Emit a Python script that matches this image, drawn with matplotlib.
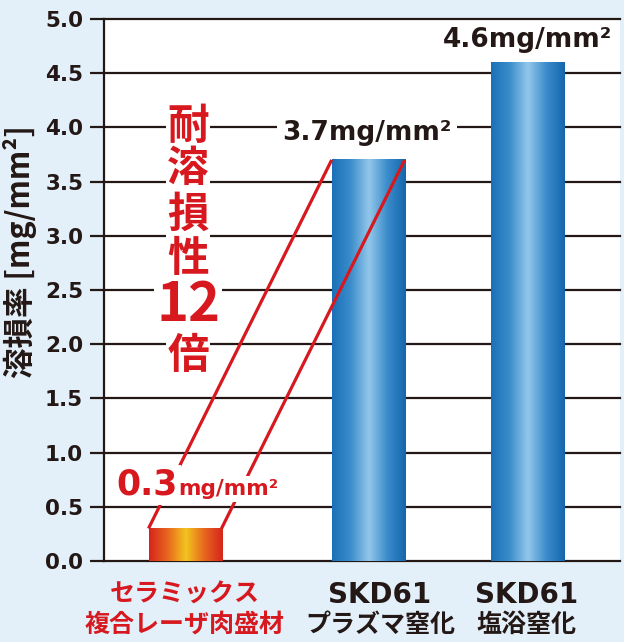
import numpy as np
import matplotlib
matplotlib.use("Agg")
import matplotlib.pyplot as plt
from matplotlib.colors import LinearSegmentedColormap

# ---- data ----
categories_line1 = ["セラミックス", "SKD61", "SKD61"]
categories_line2 = ["複合レーザ肉盛材", "プラズマ窒化", "塩浴窒化"]
values = [0.3, 3.7, 4.6]
yticks = [0.0, 0.5, 1.0, 1.5, 2.0, 2.5, 3.0, 3.5, 4.0, 4.5, 5.0]
ylabel = "溶損率 [mg/mm²]"
ratio_chars = ["耐", "溶", "損", "性", "12", "倍"]

# ---- layout ----
W, H = 624, 642
DPI = 100
BG = "#e3f0f9"
INK = "#231815"
RED = "#d7191f"
JP = ["Noto Sans CJK JP", "DejaVu Sans"]
LAT = ["DejaVu Sans"]

positions = [0.157, 0.512, 0.821]
bar_w = 0.1415
label_x = [0.157, 0.535, 0.818]

fig = plt.figure(figsize=(W / DPI, H / DPI), dpi=DPI, facecolor=BG)
ax = fig.add_axes([104 / W, 81 / H, 516 / W, 542 / H])
ax.set_facecolor("white")
ax.set_xlim(0, 1)
ax.set_ylim(0, 5)

for s in ["top", "right", "bottom"]:
    ax.spines[s].set_visible(False)
ax.spines["left"].set_color(INK)
ax.spines["left"].set_linewidth(1.6)
ax.spines["left"].set_zorder(6)

ax.set_yticks(yticks)
ax.set_yticklabels([f"{t:.1f}" for t in yticks], fontfamily=LAT,
                   fontweight="bold", fontsize=15.5, color=INK)
ax.tick_params(axis="y", length=10, width=1.6, color=INK, pad=5)
ax.set_xticks([])
for t in yticks:
    ax.axhline(t, color=INK, lw=1.6, zorder=1, clip_on=False)

# gradient bars
cm_blue = LinearSegmentedColormap.from_list(
    "b", ["#1a70b8", "#3a8ccb", "#93c7ea", "#3a8ccb", "#1566ad"])
cm_cer = LinearSegmentedColormap.from_list(
    "c", ["#d5251c", "#e8661f", "#f2c51f", "#e8661f", "#d5251c"])
grad = np.linspace(0, 1, 256).reshape(1, -1)
for i, (x, v) in enumerate(zip(positions, values)):
    cmap = cm_cer if i == 0 else cm_blue
    ax.imshow(grad, cmap=cmap, aspect="auto",
              extent=(x - bar_w / 2, x + bar_w / 2, 0, v), zorder=3,
              interpolation="bicubic")
ax.set_xlim(0, 1)
ax.set_ylim(0, 5)

# red connector lines
for side in (-1, 1):
    ax.plot([positions[0] + side * bar_w / 2, positions[1] + side * bar_w / 2],
            [values[0], values[1]], color=RED, lw=2.3, zorder=4,
            solid_capstyle="butt")

white_box = dict(facecolor="white", edgecolor="none", pad=2)

# value labels
ax.text(0.143, 0.61, f"{values[0]:.1f}", color=RED, fontfamily=LAT,
        fontweight="bold", fontsize=25, ha="right", va="baseline",
        zorder=5, bbox=white_box)
ax.text(0.143, 0.61, "mg/mm²", color=RED, fontfamily=LAT,
        fontweight="bold", fontsize=15.5, ha="left", va="baseline",
        zorder=5, bbox=white_box)
ax.text(0.51, 3.95, f"{values[1]:.1f}mg/mm²", color=INK, fontfamily=LAT,
        fontweight="bold", fontsize=19, ha="center", va="center",
        zorder=5, bbox=dict(facecolor="white", edgecolor="none", pad=4))
ax.text(0.82, 4.81, f"{values[2]:.1f}mg/mm²", color=INK, fontfamily=LAT,
        fontweight="bold", fontsize=19, ha="center", va="center", zorder=5)

# vertical annotation
ys = [4.0, 3.62, 3.19, 2.79, 2.36, 1.89]
for ch, y in zip(ratio_chars, ys):
    size = 39 if ch == "12" else 30
    ax.text(0.163, y, ch, color=RED, fontfamily=JP, fontweight="bold",
            fontsize=size, ha="center", va="center", zorder=5,
            bbox=dict(facecolor="white", edgecolor="none", pad=1))

# category labels
for i, (x, l1, l2) in enumerate(zip(label_x, categories_line1, categories_line2)):
    col = RED if i == 0 else INK
    if i == 0:
        ax.text(x, -0.31, l1, color=col, fontfamily=JP, fontweight="bold",
                fontsize=18, ha="center", va="center", clip_on=False)
    else:
        ax.text(x, -0.31, l1, color=col, fontfamily=LAT, fontweight="bold",
                fontsize=20, ha="center", va="center", clip_on=False)
    ax.text(x, -0.59, l2, color=col, fontfamily=JP, fontweight="bold",
            fontsize=18, ha="center", va="center", clip_on=False)

fig.text(20 / W, 1 - 252 / H, ylabel, rotation=90, fontfamily=JP,
         fontweight="bold", fontsize=22, color=INK, ha="center", va="center")

fig.savefig("out.png", dpi=DPI, facecolor=BG)
